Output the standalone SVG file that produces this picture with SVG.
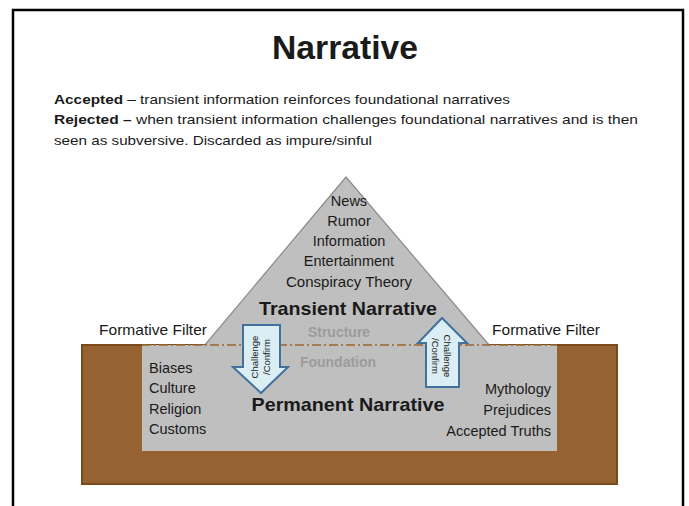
<svg xmlns="http://www.w3.org/2000/svg" width="689" height="506" viewBox="0 0 689 506">
  <style>
    text { font-family: "Liberation Sans", Arial, sans-serif; fill: #1a1a1a; }
    .title { font-size: 33px; font-weight: bold; text-anchor: middle; }
    .body { font-size: 13px; }
    .item { font-size: 14.5px; }
    .mid { text-anchor: middle; }
    .end { text-anchor: end; }
    .big { font-size: 19px; font-weight: bold; text-anchor: middle; }
    .layer { font-size: 14px; font-weight: bold; fill: #9c9c9c; text-anchor: middle; }
    .arrowtxt { font-size: 9.5px; text-anchor: middle; }
    .arrow { fill: #dbeef4; stroke: #41719c; stroke-width: 2; stroke-linejoin: miter; }
  </style>

  <!-- slide frame -->
  <rect x="0" y="0" width="689" height="506" fill="#ffffff"/>
  <path d="M13,510 V10 H683 V510" fill="none" stroke="#000" stroke-width="2.5"/>

  <!-- heading and definitions -->
  <g id="heading">
    <text class="title" x="345" y="59" textLength="146" lengthAdjust="spacingAndGlyphs">Narrative</text>
    <text class="body" x="54" y="104" textLength="456" lengthAdjust="spacingAndGlyphs"><tspan font-weight="bold">Accepted</tspan> – transient information reinforces foundational narratives</text>
    <text class="body" x="54" y="124" textLength="584" lengthAdjust="spacingAndGlyphs"><tspan font-weight="bold">Rejected –</tspan> when transient information challenges foundational narratives and is then</text>
    <text class="body" x="54" y="145" textLength="318" lengthAdjust="spacingAndGlyphs">seen as subversive. Discarded as impure/sinful</text>
  </g>

  <!-- ground: permanent narrative -->
  <g id="ground">
    <rect x="82" y="345" width="535" height="139" fill="#966232" stroke="#7b4a1c" stroke-width="2"/>
  </g>

  <!-- transient narrative pyramid -->
  <g id="pyramid">
    <polygon points="346,177 199,352 495,352" fill="#bfbfbf" stroke="#8a8a8a" stroke-width="1.2"/>
    <text class="item mid" x="349" y="206">News</text>
    <text class="item mid" x="349" y="226">Rumor</text>
    <text class="item mid" x="349" y="246">Information</text>
    <text class="item mid" x="349" y="266">Entertainment</text>
    <text class="item mid" x="349" y="287" textLength="126" lengthAdjust="spacingAndGlyphs">Conspiracy Theory</text>
    <text class="big" x="348" y="315" textLength="178" lengthAdjust="spacingAndGlyphs">Transient Narrative</text>
    <text class="layer" x="339" y="337">Structure</text>
  </g>

  <!-- foundation block -->
  <g id="foundation">
    <rect x="142" y="345" width="415" height="106" fill="#bfbfbf"/>
    <line x1="142" y1="345" x2="557" y2="345" stroke="#996633" stroke-width="1.5" stroke-dasharray="9,3,2,3"/>
    <text class="layer" x="338" y="367">Foundation</text>
    <text class="big" x="348" y="411" textLength="193" lengthAdjust="spacingAndGlyphs">Permanent Narrative</text>
    <text class="item" x="149" y="373">Biases</text>
    <text class="item" x="149" y="393">Culture</text>
    <text class="item" x="149" y="414">Religion</text>
    <text class="item" x="149" y="434">Customs</text>
    <text class="item end" x="551" y="394">Mythology</text>
    <text class="item end" x="551" y="415">Prejudices</text>
    <text class="item end" x="551" y="436">Accepted Truths</text>
  </g>

  <!-- filter labels -->
  <g id="filters">
    <text class="item" x="99" y="335" textLength="108" lengthAdjust="spacingAndGlyphs">Formative Filter</text>
    <text class="item" x="492" y="335" textLength="108" lengthAdjust="spacingAndGlyphs">Formative Filter</text>
  </g>

  <!-- challenge / confirm flows -->
  <g id="connectors">
    <g id="down-arrow">
      <polygon class="arrow" points="243,325 280,325 280,367 288,367 261,393 233,367 243,367"/>
      <text class="arrowtxt" transform="translate(258,357) rotate(-90)">Challenge</text>
      <text class="arrowtxt" transform="translate(270,357) rotate(-90)">/Confirm</text>
    </g>
    <g id="up-arrow">
      <polygon class="arrow" points="442,318 467,343 459,343 459,387 426,387 426,343 418,343"/>
      <text class="arrowtxt" transform="translate(444,356) rotate(90)">Challenge</text>
      <text class="arrowtxt" transform="translate(432,356) rotate(90)">/Confirm</text>
    </g>
  </g>
</svg>
